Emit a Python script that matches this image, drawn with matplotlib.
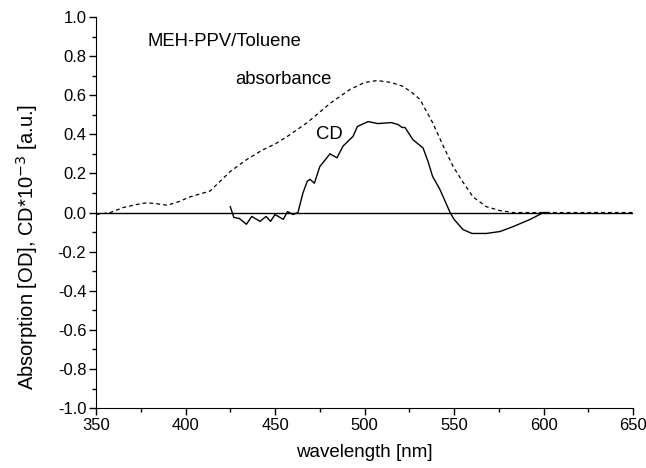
import matplotlib.pyplot as plt
from matplotlib.ticker import MultipleLocator

plt.rcParams['font.family'] = ['Liberation Sans', 'DejaVu Sans']
plt.rcParams['axes.unicode_minus'] = False

# absorbance (dashed)
abs_wl = [350, 358, 365, 372, 378.5, 384, 389.7, 396, 402.5, 413.7, 425, 434, 443,
          450, 457, 468, 481, 492, 500, 507, 515, 521.5, 527, 531, 538, 544,
          549.5, 555, 560.6, 568, 575.7, 583, 610, 650]
abs_val = [-0.01, 0.0, 0.025, 0.04, 0.05, 0.045, 0.037, 0.055, 0.08, 0.11, 0.21,
           0.27, 0.32, 0.35, 0.39, 0.46, 0.56, 0.63, 0.665, 0.675, 0.665, 0.645,
           0.61, 0.578, 0.46, 0.34, 0.235, 0.155, 0.08, 0.03, 0.01, 0.0, 0.0, 0.0]

# CD (solid)
cd_wl = [425, 427, 430, 434, 437, 441.6, 445, 447.5, 450, 454.6, 457, 460, 462.8,
         465.6, 468, 469.5, 472, 475, 480.7, 484.6, 488, 493.6, 496, 502, 507.5,
         515, 518.7, 521, 522.6, 527, 532.7, 535.5, 538, 542, 547.8, 550,
         555, 560, 568, 575.7, 583, 592.5, 600, 602.5]
cd_val = [0.03, -0.025, -0.03, -0.06, -0.02, -0.045, -0.02, -0.045, -0.01, -0.035,
          0.005, -0.01, 0.0, 0.10, 0.16, 0.17, 0.15, 0.235, 0.30, 0.28, 0.34, 0.39,
          0.44, 0.465, 0.455, 0.46, 0.45, 0.435, 0.435, 0.373, 0.33, 0.26, 0.185,
          0.12, 0.0, -0.035, -0.087, -0.107, -0.107, -0.097, -0.072,
          -0.035, 0.0, 0.0]

fig = plt.figure(figsize=(6.46, 4.68), dpi=100)
ax = fig.add_axes([0.1486, 0.128, 0.8314, 0.8357])

ax.axhline(0, color='black', lw=1.0)
ax.plot(abs_wl, abs_val, color='black', lw=0.9, ls=(0, (3, 2.5)))
ax.plot(cd_wl, cd_val, color='black', lw=1.0)

ax.text(379, 0.875, 'MEH-PPV/Toluene', fontsize=13.3, va='center')
ax.text(428, 0.68, 'absorbance', fontsize=13.3, va='center')
ax.text(473, 0.40, 'CD', fontsize=13.3, va='center')

ax.set_xlim(350, 650)
ax.set_ylim(-1.0, 1.0)
ax.xaxis.set_major_locator(MultipleLocator(50))
ax.xaxis.set_minor_locator(MultipleLocator(25))
ax.yaxis.set_major_locator(MultipleLocator(0.2))
ax.yaxis.set_minor_locator(MultipleLocator(0.1))
ax.yaxis.set_major_formatter(plt.FormatStrFormatter('%.1f'))
ax.tick_params(which='major', direction='out', length=5, width=1, labelsize=12, pad=2)
ax.tick_params(which='minor', direction='out', length=3, width=1)

ax.spines['top'].set_visible(False)
ax.spines['right'].set_visible(False)

ax.set_xlabel('wavelength [nm]', fontsize=13.5, labelpad=8)
ax.set_ylabel('Absorption [OD], CD*10$^{-3}$ [a.u.]', fontsize=14.5)
ax.yaxis.set_label_coords(-0.105, 0.413)

fig.savefig('out.png', dpi=100)
